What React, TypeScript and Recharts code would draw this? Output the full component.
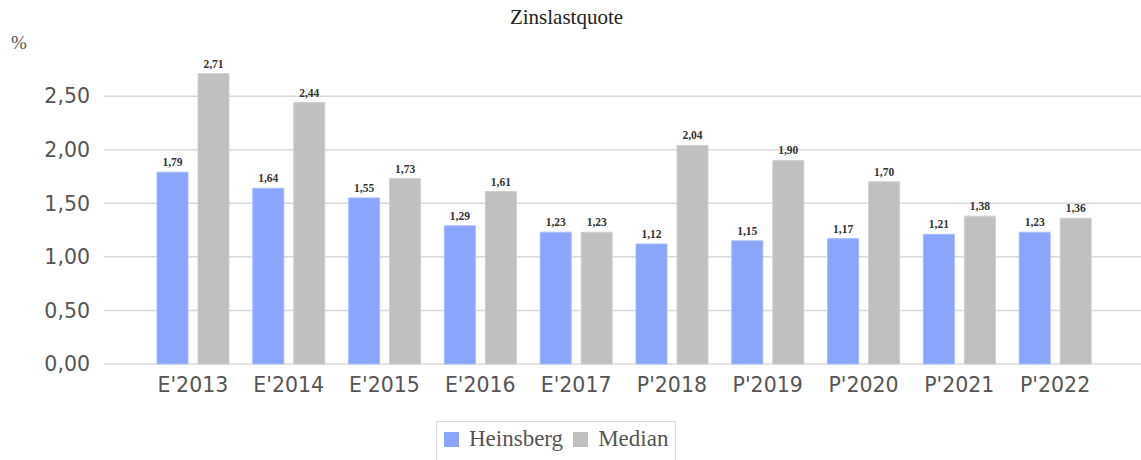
import { BarChart, Bar, XAxis, YAxis, CartesianGrid, LabelList } from "recharts";

const years = ["E'2013", "E'2014", "E'2015", "E'2016", "E'2017", "P'2018", "P'2019", "P'2020", "P'2021", "P'2022"];
const heinsberg = [1.79, 1.64, 1.55, 1.29, 1.23, 1.12, 1.15, 1.17, 1.21, 1.23];
const median = [2.71, 2.44, 1.73, 1.61, 1.23, 2.04, 1.9, 1.7, 1.38, 1.36];
const yTicks = [0, 0.5, 1, 1.5, 2, 2.5];

const series = [
  { key: "heinsberg", name: "Heinsberg", color: "#8aa6fa", stroke: "#a9bdfc" },
  { key: "median", name: "Median", color: "#c0c0c0", stroke: "#cfcfcf" },
];

const data = years.map((year, i) => ({ year, heinsberg: heinsberg[i], median: median[i] }));

const de = (v: number) => v.toFixed(2).replace(".", ",");
const serif = "'Liberation Serif', 'Times New Roman', serif";
const sans = "'DejaVu Sans', Verdana, sans-serif";

export default function App() {
  return (
    <div style={{ position: "absolute", left: 0, top: 0, width: 1141, height: 460, background: "#fff", overflow: "hidden" }}>
      <div style={{ position: "absolute", left: 0, width: 1133, top: 5, textAlign: "center", fontFamily: serif, fontSize: 21, color: "#222" }}>
        Zinslastquote
      </div>
      <div style={{ position: "absolute", left: 11, top: 32, fontFamily: serif, fontSize: 19, color: "#555" }}>%</div>
      <BarChart
        width={1141}
        height={460}
        data={data}
        margin={{ top: 64, right: 0, left: 0, bottom: 66 }}
        barSize={31}
        barGap={10}
      >
        <CartesianGrid vertical={false} horizontalValues={yTicks} stroke="#d9d9d9" strokeWidth={1.5} />
        <XAxis
          dataKey="year"
          height={30}
          axisLine={false}
          tickLine={false}
          tickSize={0}
          tickMargin={13}
          padding={{ left: 41, right: 38 }}
          tick={{ fontSize: 20.5, fill: "#555", fontFamily: sans }}
          interval={0}
        />
        <YAxis
          width={104}
          domain={[0, 2.8]}
          ticks={yTicks}
          axisLine={false}
          tickLine={false}
          tickSize={0}
          tickMargin={14}
          tickFormatter={de}
          tick={{ fontSize: 20.5, fill: "#555", fontFamily: sans }}
        />
        {series.map((s) => (
          <Bar key={s.key} dataKey={s.key} name={s.name} fill={s.color} stroke={s.stroke} strokeWidth={1} isAnimationActive={false}>
            <LabelList
              dataKey={s.key}
              position="top"
              offset={6}
              formatter={(v: number) => de(v)}
              style={{ fontSize: 11.5, fontWeight: "bold", fill: "#333", fontFamily: serif }}
            />
          </Bar>
        ))}
      </BarChart>
      <div
        style={{
          position: "absolute",
          left: 436,
          top: 421,
          width: 240,
          height: 50,
          border: "1px solid #d9d9d9",
          boxSizing: "border-box",
          display: "flex",
          alignItems: "flex-start",
          paddingLeft: 7,
          paddingTop: 4,
          fontFamily: serif,
          fontSize: 23,
          color: "#555",
        }}
      >
        {series.map((s) => (
          <div key={s.key} style={{ display: "flex", alignItems: "center", marginRight: 10 }}>
            <span style={{ display: "inline-block", width: 15, height: 15, background: s.color, marginRight: 10 }} />
            <span>{s.name}</span>
          </div>
        ))}
      </div>
    </div>
  );
}
